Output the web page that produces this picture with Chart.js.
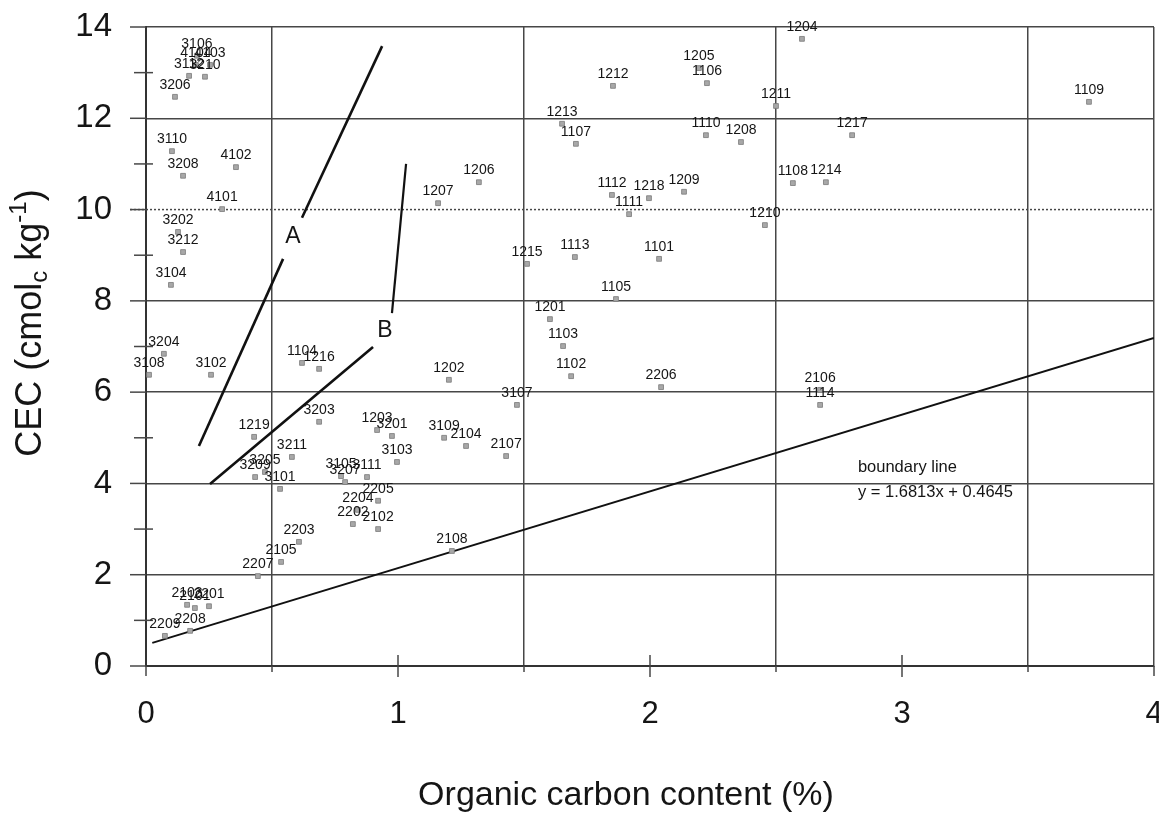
<!DOCTYPE html>
<html>
<head>
<meta charset="utf-8">
<title>CEC vs organic carbon</title>
<script src="https://cdn.jsdelivr.net/npm/chart.js@4.4.1/dist/chart.umd.min.js"></script>
<style>
  html, body { margin: 0; padding: 0; background: #fff; }
  #wrap { width: 1159px; height: 826px; }
</style>
</head>
<body>
<div id="wrap"><canvas id="cec" width="1159" height="826"></canvas></div>
<script>
// sample codes with organic carbon (%) and CEC (cmolc/kg)
const sampleIds = [
  '3106','4104','4103','3112','3210','3206','3110','3208','4102','4101',
  '3202','3212','3104','3204','3108','3102','1219','3211','3205','3209',
  '3101','2203','2105','2207','2103','2101','2201','2209','2208','1104',
  '1216','1202','3107','3203','1203','3201','3109','2104','2107','3103',
  '3105','3207','3111','2205','2204','2202','2102','2108','1207','1206',
  '1112','1218','1209','1111','1215','1113','1101','1105','1201','1103',
  '1102','2206','1212','1205','1106','1213','1107','1110','1208','1211',
  '1204','1108','1214','1109','1217','1210','2106','1114'
];
const carbonPct = [
  0.202, 0.198, 0.254, 0.171, 0.234, 0.115, 0.103, 0.147, 0.357, 0.302,
  0.127, 0.147, 0.099, 0.071, 0.012, 0.258, 0.429, 0.579, 0.472, 0.433,
  0.532, 0.607, 0.536, 0.444, 0.163, 0.194, 0.250, 0.075, 0.175, 0.619,
  0.687, 1.202, 1.472, 0.687, 0.917, 0.976, 1.183, 1.270, 1.429, 0.996,
  0.774, 0.790, 0.877, 0.921, 0.841, 0.821, 0.921, 1.214, 1.159, 1.321,
  1.849, 1.996, 2.135, 1.917, 1.512, 1.702, 2.036, 1.865, 1.603, 1.655,
  1.687, 2.044, 1.853, 2.194, 2.226, 1.651, 1.706, 2.222, 2.361, 2.500,
  2.603, 2.567, 2.698, 3.742, 2.802, 2.456, 2.675, 2.675
];
const cecValues = [
  13.37, 13.17, 13.17, 12.93, 12.91, 12.47, 11.28, 10.74, 10.93, 10.01,
  9.51, 9.07, 8.35, 6.84, 6.38, 6.38, 5.02, 4.58, 4.25, 4.14,
  3.88, 2.72, 2.28, 1.97, 1.34, 1.27, 1.31, 0.66, 0.77, 6.64,
  6.51, 6.27, 5.72, 5.35, 5.17, 5.04, 5.00, 4.82, 4.60, 4.47,
  4.16, 4.03, 4.14, 3.62, 3.42, 3.11, 3.00, 2.52, 10.14, 10.60,
  10.32, 10.25, 10.39, 9.90, 8.81, 8.96, 8.92, 8.04, 7.60, 7.01,
  6.35, 6.11, 12.71, 13.10, 12.77, 11.88, 11.44, 11.63, 11.48, 12.27,
  13.74, 10.58, 10.60, 12.36, 11.63, 9.66, 6.05, 5.72
];

// boundary line y = 1.6813x + 0.4645
const boundarySlope = 1.6813;
const boundaryIntercept = 0.4645;
const boundaryX = [0.025, 4];

// hand-drawn trend lines A and B (start/end points)
const lineA1 = [[0.210, 4.82], [0.544, 8.92]];
const lineA2 = [[0.619, 9.82], [0.937, 13.58]];
const lineB1 = [[0.254, 3.99], [0.901, 6.99]];
const lineB2 = [[0.976, 7.73], [1.032, 11.00]];

const xTickValues = [0, 1, 2, 3, 4];
const yTickValues = [0, 2, 4, 6, 8, 10, 12, 14];

const FONT = '"Liberation Sans", Arial, sans-serif';
const INK = '#151515';
const GRID = '#474747';

const points = carbonPct.map((x, i) => ({ x: x, y: cecValues[i] }));
const toXY = seg => seg.map(p => ({ x: p[0], y: p[1] }));
const boundaryPts = boundaryX.map(x => ({ x: x, y: boundarySlope * x + boundaryIntercept }));

function lineSet(data, width) {
  return {
    type: 'line', data: data, borderColor: '#111', borderWidth: width,
    pointRadius: 0, fill: false, tension: 0, order: 2
  };
}

// short cross ticks, the dotted 10 line, titles and text annotations
const extras = {
  id: 'extras',
  beforeDatasetsDraw(chart) {
    const { ctx, chartArea: a, scales: { x, y } } = chart;
    ctx.save();
    ctx.strokeStyle = GRID;
    ctx.lineWidth = 1.5;
    // dotted gridline at 10
    ctx.setLineDash([2, 2]);
    ctx.beginPath();
    ctx.moveTo(a.left - 16, y.getPixelForValue(10));
    ctx.lineTo(a.right, y.getPixelForValue(10));
    ctx.stroke();
    ctx.setLineDash([]);
    // even gridlines poke out left of the axis
    yTickValues.forEach(v => {
      const py = y.getPixelForValue(v);
      ctx.beginPath(); ctx.moveTo(a.left - 16, py); ctx.lineTo(a.left, py); ctx.stroke();
    });
    // odd minor ticks cross the y axis
    [1, 3, 5, 7, 9, 11, 13].forEach(v => {
      const py = y.getPixelForValue(v);
      ctx.beginPath(); ctx.moveTo(a.left - 12, py); ctx.lineTo(a.left + 7, py); ctx.stroke();
    });
    // integer ticks cross the x axis, half gridlines poke below it
    [1, 2, 3].forEach(v => {
      const px = x.getPixelForValue(v);
      ctx.beginPath(); ctx.moveTo(px, a.bottom - 11); ctx.lineTo(px, a.bottom + 11); ctx.stroke();
    });
    [0, 0.5, 1.5, 2.5, 3.5, 4].forEach(v => {
      const px = x.getPixelForValue(v);
      ctx.beginPath(); ctx.moveTo(px, a.bottom); ctx.lineTo(px, a.bottom + (v % 1 ? 6 : 10)); ctx.stroke();
    });
    ctx.restore();
  },
  afterDatasetsDraw(chart) {
    const { ctx, scales: { x, y } } = chart;
    ctx.save();
    ctx.fillStyle = INK;

    // sample labels above each marker
    const meta = chart.getDatasetMeta(0);
    ctx.font = '14px ' + FONT;
    ctx.textAlign = 'center';
    ctx.textBaseline = 'alphabetic';
    meta.data.forEach((el, i) => {
      ctx.fillText(sampleIds[i], el.x, el.y - 8);
    });

    // line names
    ctx.font = '23px ' + FONT;
    ctx.textBaseline = 'middle';
    ctx.fillText('A', x.getPixelForValue(0.583), y.getPixelForValue(9.40));
    ctx.fillText('B', x.getPixelForValue(0.948), y.getPixelForValue(7.34));

    // boundary line caption
    ctx.font = '16.5px ' + FONT;
    ctx.textAlign = 'left';
    ctx.fillText('boundary line', x.getPixelForValue(2.825), y.getPixelForValue(4.34));
    ctx.fillText('y = 1.6813x + 0.4645', x.getPixelForValue(2.825), y.getPixelForValue(3.81));

    // x axis title
    ctx.font = '34px ' + FONT;
    ctx.textAlign = 'center';
    ctx.fillText('Organic carbon content (%)', 626, 796);

    // y axis title with sub/superscript
    const big = '36px ' + FONT, small = '24px ' + FONT;
    const parts = [
      { t: 'CEC (cmol', f: big, dy: 0 },
      { t: 'c', f: small, dy: 9 },
      { t: ' kg', f: big, dy: 0 },
      { t: '-1', f: small, dy: -12 },
      { t: ')', f: big, dy: 0 }
    ];
    let total = 0;
    parts.forEach(p => { ctx.font = p.f; p.w = ctx.measureText(p.t).width; total += p.w; });
    ctx.translate(31, 323);
    ctx.rotate(-Math.PI / 2);
    ctx.textAlign = 'left';
    let cx = -total / 2;
    parts.forEach(p => {
      ctx.font = p.f;
      ctx.fillText(p.t, cx, p.dy);
      cx += p.w;
    });
    ctx.restore();
  }
};

new Chart(document.getElementById('cec').getContext('2d'), {
  type: 'scatter',
  data: {
    datasets: [
      {
        label: 'samples',
        data: points,
        pointStyle: 'rect',
        pointRadius: 3.4,
        backgroundColor: '#a8a8a8',
        borderColor: '#7a7a7a',
        borderWidth: 0.8,
        order: 1
      },
      lineSet(boundaryPts, 2),
      lineSet(toXY(lineA1), 2.6),
      lineSet(toXY(lineA2), 2.6),
      lineSet(toXY(lineB1), 2.6),
      lineSet(toXY(lineB2), 2.2)
    ]
  },
  options: {
    responsive: false,
    devicePixelRatio: 1,
    animation: false,
    layout: { padding: { top: 27, right: 5, left: 0, bottom: 0 } },
    plugins: { legend: { display: false }, tooltip: { enabled: false } },
    scales: {
      x: {
        type: 'linear',
        min: 0,
        max: 4,
        afterFit: s => { s.height = 160; s.paddingLeft = 0; s.paddingRight = 0; },
        afterBuildTicks: s => {
          s.ticks = [0, 0.5, 1, 1.5, 2, 2.5, 3, 3.5, 4].map(v => ({ value: v }));
        },
        ticks: {
          padding: 30,
          color: INK,
          font: { family: FONT, size: 31 },
          maxRotation: 0,
          autoSkip: false,
          callback: v => (xTickValues.includes(v) ? String(v) : '')
        },
        grid: {
          drawTicks: false,
          lineWidth: 1.5,
          color: c => (c.tick && (c.tick.value % 1 !== 0 || c.tick.value === 4) ? GRID : 'rgba(0,0,0,0)')
        },
        border: { display: true, color: '#333', width: 2 }
      },
      y: {
        type: 'linear',
        min: 0,
        max: 14,
        afterFit: s => { s.width = 146; s.paddingTop = 0; s.paddingBottom = 0; },
        afterBuildTicks: s => { s.ticks = yTickValues.map(v => ({ value: v })); },
        ticks: {
          padding: 34,
          color: INK,
          font: { family: FONT, size: 33 },
          callback: v => String(v)
        },
        grid: {
          drawTicks: false,
          lineWidth: 1.5,
          color: c => (c.tick && c.tick.value === 10 ? 'rgba(0,0,0,0)' : GRID)
        },
        border: { display: true, color: '#333', width: 2 }
      }
    }
  },
  plugins: [extras]
});
</script>
</body>
</html>
